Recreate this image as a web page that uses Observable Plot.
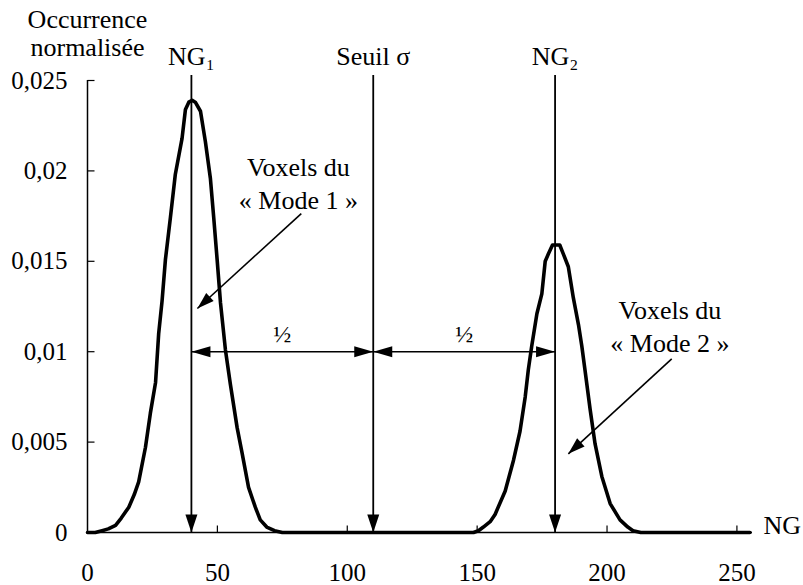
<!DOCTYPE html>
<html><head><meta charset="utf-8">
<script src="https://cdn.jsdelivr.net/npm/d3@7"></script>
<script src="https://cdn.jsdelivr.net/npm/@observablehq/plot@0.6"></script>
<style>
body{margin:0;background:#fff}
svg{display:block;background:#fff}
svg text{font-family:"Liberation Serif","Times New Roman",serif !important}
</style>
</head><body><div id="chart"></div>
<script>
// ---- data ----
const ng  = [0, 3, 5.6, 8, 10.8, 13, 15.9, 18, 19.7, 22.3, 24.2, 26.2, 27.4, 28.7, 30, 31.9, 33.8, 36.4, 37.7, 39, 40.3, 41.5, 43.5, 45.4, 47.3, 48.6, 49.9, 51.2, 53.1, 55, 57.6, 59.5, 62, 64.6, 66.5, 69, 72, 75, 90, 110, 130, 145, 148.6, 150.5, 152.4, 155, 156.9, 160.8, 164, 166.5, 168.5, 169.7, 171, 173, 174.9, 176.2, 177.4, 179, 180.6, 181.8, 183.2, 185.1, 187, 189, 190.3, 191.5, 193.5, 195.4, 198, 201.2, 205, 208, 210, 213, 230, 255];
const occ = [0, 0, 0.0001, 0.0002, 0.0004, 0.0008, 0.0014, 0.0021, 0.0028, 0.0047, 0.0066, 0.0083, 0.0110, 0.0128, 0.0151, 0.0174, 0.0198, 0.0218, 0.0234, 0.0238, 0.0239, 0.0238, 0.0233, 0.0216, 0.0196, 0.0174, 0.0151, 0.0127, 0.0101, 0.0082, 0.0058, 0.0044, 0.0025, 0.0014, 0.0007, 0.0003, 0.0001, 0, 0, 0, 0, 0, 0, 0.0001, 0.0003, 0.0006, 0.0010, 0.0023, 0.0040, 0.0056, 0.0075, 0.0090, 0.0103, 0.0121, 0.0132, 0.0150, 0.0154, 0.0159, 0.0159, 0.0159, 0.0154, 0.0147, 0.0130, 0.0115, 0.0103, 0.0090, 0.0068, 0.0049, 0.0031, 0.0016, 0.0007, 0.0003, 0.0001, 0, 0, 0];
const xTicks = [0, 50, 100, 150, 200, 250];
const yTicks = [0, 0.005, 0.01, 0.015, 0.02, 0.025];
const markerNG = [40, 110, 180];
const markerLabels = ["NG₁", "Seuil σ", "NG₂"];
const halfLevel = 0.01;
const halfLabels = ["½", "½"];
const modeLabels = ["Voxels du\n« Mode 1 »", "Voxels du\n« Mode 2 »"];
const modeLabelNG = [81.2, 224.2];
const modeLabelOcc = [0.0194, 0.0115];
const modeArrowFromNG = [82.3, 224.9];
const modeArrowFromOcc = [0.01764, 0.0096];
const modeArrowToNG = [42.3, 185.1];
const modeArrowToOcc = [0.01239, 0.00435];

// ---- layout ----
const W = 803, H = 585, mL = 87, mR = 51, mT = 80, mB = 53;
const xDomain = [0, 256], yDomain = [0, 0.025];
const sx = Plot.scale({x: {domain: xDomain, range: [mL, W - mR]}});
const sy = Plot.scale({y: {domain: yDomain, range: [H - mB, mT]}});
const FONT = "Liberation Serif";
const fmt = d => String(d).replace(".", ",");

function tri(deg, L = 18, hw = 5.5) {
  const a = deg * Math.PI / 180, ux = Math.cos(a), uy = Math.sin(a), px = -uy, py = ux;
  return {draw(ctx) {
    ctx.moveTo(0, 0);
    ctx.lineTo(-ux * L + px * hw, -uy * L + py * hw);
    ctx.lineTo(-ux * L - px * hw, -uy * L - py * hw);
    ctx.closePath();
  }};
}
const tickRight = {draw(ctx) { ctx.moveTo(0, 0); ctx.lineTo(7, 0); }};
const tickUp = {draw(ctx) { ctx.moveTo(0, 0); ctx.lineTo(0, -7); }};

const curve = ng.map((x, i) => ({x, y: occ[i]}));
const markers = markerNG.map((x, i) => ({x, label: markerLabels[i]}));
const halves = [{x1: markerNG[0], x2: markerNG[1]}, {x1: markerNG[1], x2: markerNG[2]}];
const halfText = halves.map((h, i) => ({x: (h.x1 + h.x2) / 2, label: halfLabels[i]}));
const modes = modeLabels.map((label, i) => ({
  label, lx: modeLabelNG[i], ly: modeLabelOcc[i],
  x1: modeArrowFromNG[i], y1: modeArrowFromOcc[i], x2: modeArrowToNG[i], y2: modeArrowToOcc[i]
}));
const headMarks = modes.map(m => {
  const dx = sx.apply(m.x2) - sx.apply(m.x1), dy = sy.apply(m.y2) - sy.apply(m.y1);
  const deg = Math.atan2(dy, dx) * 180 / Math.PI;
  return Plot.dot([m], {x: "x2", y: "y2", symbol: tri(deg, 17, 5.5), fill: "black", stroke: "none", r: 5});
});
const T = {fontFamily: FONT};

const plot = Plot.plot({
  width: W, height: H,
  marginLeft: mL, marginRight: mR, marginTop: mT, marginBottom: mB,
  style: {fontFamily: FONT, fontSize: "24px", color: "black", background: "white"},
  x: {domain: xDomain, axis: null},
  y: {domain: yDomain, axis: null},
  marks: [
    // axes
    Plot.ruleX([0], {y1: 0, y2: yDomain[1], stroke: "black", strokeWidth: 1.5}),
    Plot.ruleY([0], {x1: 0, x2: xDomain[1], stroke: "black", strokeWidth: 1.5}),
    Plot.dot(yTicks.slice(1), {x: 0, y: d => d, symbol: tickRight, fill: "none", stroke: "black", strokeWidth: 1.2}),
    Plot.dot(xTicks.slice(1), {x: d => d, y: 0, symbol: tickUp, fill: "none", stroke: "black", strokeWidth: 1.2}),
    Plot.text(yTicks, {...T, x: 0, y: d => d, text: fmt, textAnchor: "end", dx: -20, fontSize: 25}),
    Plot.text(xTicks, {...T, x: d => d, y: 0, text: d => String(d), dy: 40, fontSize: 25}),
    Plot.text(["Occurrence"], {...T, x: 0, y: yDomain[1], text: d => d, dy: -61, fontSize: 26}),
    Plot.text(["normalisée"], {...T, x: 0, y: yDomain[1], text: d => d, dy: -33, fontSize: 26}),
    Plot.text(["NG"], {...T, x: xDomain[1], y: 0, text: d => d, textAnchor: "start", dx: 11, dy: -7, fontSize: 26}),
    // vertical markers
    Plot.ruleX(markers, {x: "x", y1: 0, y2: 0.02528, stroke: "black", strokeWidth: 1.8}),
    Plot.text(markers, {...T, x: "x", y: yDomain[1], text: "label", dy: -24, fontSize: 26}),
    // curve
    Plot.line(curve, {x: "x", y: "y", stroke: "black", strokeWidth: 3.6, strokeLinejoin: "round", strokeLinecap: "round"}),
    // arrow heads of verticals
    Plot.dot(markers, {x: "x", y: 0, symbol: tri(90, 18, 6), fill: "black", stroke: "none", r: 5}),
    // half arrows
    Plot.link(halves, {x1: "x1", x2: "x2", y1: halfLevel, y2: halfLevel, stroke: "black", strokeWidth: 1.5}),
    Plot.dot(halves, {x: "x1", y: halfLevel, symbol: tri(180, 19, 5.5), fill: "black", stroke: "none", r: 5}),
    Plot.dot(halves, {x: "x2", y: halfLevel, symbol: tri(0, 19, 5.5), fill: "black", stroke: "none", r: 5}),
    Plot.text(halfText, {...T, x: "x", y: halfLevel, text: "label", dy: -17, fontSize: 24}),
    // mode annotations
    Plot.link(modes, {x1: "x1", y1: "y1", x2: "x2", y2: "y2", stroke: "black", strokeWidth: 1.6}),
    ...headMarks,
    Plot.text(modes, {...T, x: "lx", y: "ly", text: "label", lineHeight: 1.3, fontSize: 26})
  ]
});
document.getElementById("chart").append(plot);
</script>
</body></html>
